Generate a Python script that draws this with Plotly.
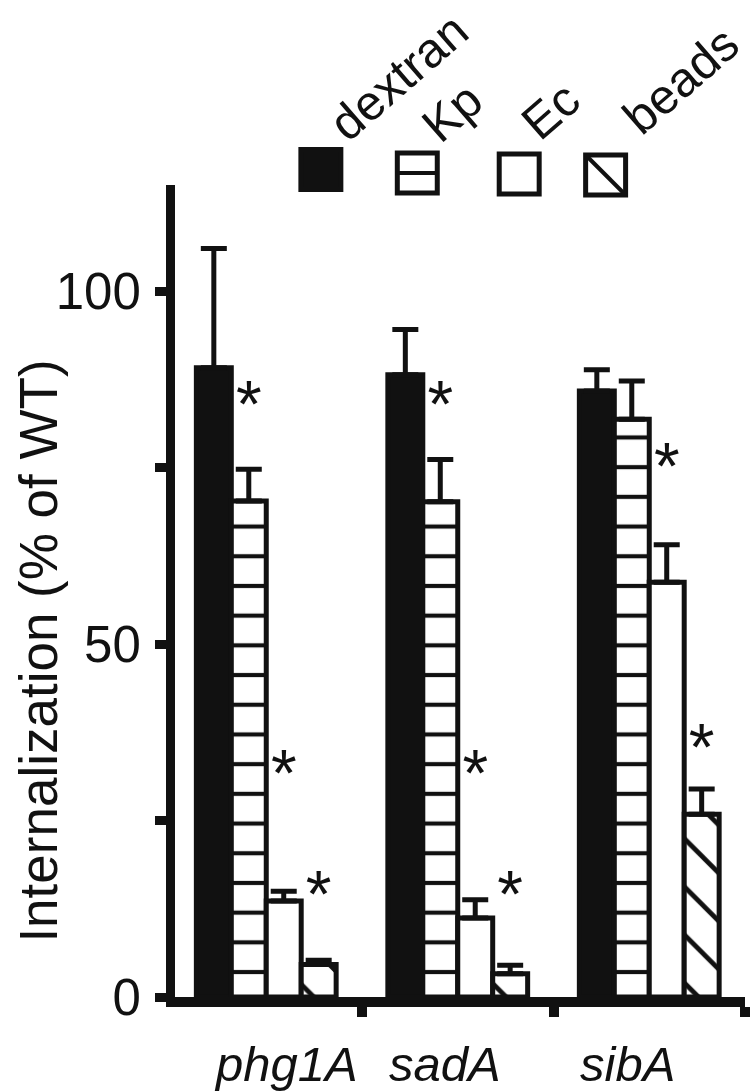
import plotly.graph_objects as go

# ---------------- data ----------------
strains = ["phg1A", "sadA", "sibA"]
series = ["dextran", "Kp", "Ec", "beads"]

dextran = [89.2, 88.2, 85.9]
kp = [70.3, 70.2, 81.9]
ec = [13.6, 11.2, 58.8]
beads = [4.6, 3.3, 25.9]

dextran_err = [16.9, 6.4, 3.0]
kp_err = [4.5, 6.0, 5.4]
ec_err = [1.4, 2.6, 5.3]
beads_err = [0.6, 1.2, 3.6]

# level of significance asterisks (None = not significant)
dextran_star = [None, None, None]
kp_star = [83.2, 83.2, None]
ec_star = [30.9, 30.8, 74.4]
beads_star = [13.7, 13.7, 34.5]

y_ticks = [0, 25, 50, 75, 100]
y_ticktext = ["0", "", "50", "", "100"]
y_title = "Internalization (% of WT)"

# ---------------- styling ----------------
INK = "#111111"
FONT = "Liberation Sans, Arial, Helvetica, sans-serif"
FS = 49
W, H = 750, 1092
AXL = 170          # pixel x of the y-axis line centre (= first category boundary)
YLW = 9            # y-axis line width
ML, MR, MT, MB = AXL + YLW / 2, 5, 185, 95
PW, PH = W - ML - MR, H - MT - MB
CAT_W = (W - MR - AXL) / len(strains)
X_START = -0.5 + (YLW / 2) / CAT_W


def px_x(x):
    return (x - ML) / PW


def px_y(y):
    return (H - MB - y) / PH


values = [dextran, kp, ec, beads]
errors = [dextran_err, kp_err, ec_err, beads_err]
stars = [dextran_star, kp_star, ec_star, beads_star]
patterns = [
    None,
    dict(shape="-", fgcolor=INK, fgopacity=1, bgcolor="white", size=29.7, solidity=0.14,
         fillmode="overlay"),
    None,
    dict(shape="\\", fgcolor=INK, fgopacity=1, bgcolor="white", size=34, solidity=0.14,
         fillmode="overlay"),
]
fills = [INK, "white", "white", "white"]

fig = go.Figure()
for i, name in enumerate(series):
    marker = dict(color=fills[i], line=dict(color=INK, width=5))
    if patterns[i] is not None:
        marker["pattern"] = patterns[i]
    fig.add_trace(go.Bar(
        name=name, x=strains, y=values[i], offsetgroup=name,
        marker=marker,
        error_y=dict(type="data", symmetric=False, array=errors[i],
                     arrayminus=[0] * len(strains), color=INK, thickness=5, width=13),
        showlegend=False,
    ))

for i, name in enumerate(series):
    fig.add_trace(go.Scatter(
        x=strains, y=stars[i], offsetgroup=name, mode="text",
        text=["*" if s is not None else "" for s in stars[i]],
        textposition="middle center",
        textfont=dict(size=66, color=INK, family=FONT),
        showlegend=False, cliponaxis=False, hoverinfo="skip",
    ))

# ---------------- legend (drawn manually) ----------------
legend_boxes = [(320.5, 169.5), (417, 173), (519, 174), (605.5, 175)]
legend_labels = [(398, 77), (452, 112), (550, 111), (681, 80)]
half = 20
shapes = []
for i, (cx, cy) in enumerate(legend_boxes):
    x0, x1 = px_x(cx - half), px_x(cx + half)
    y0, y1 = px_y(cy + half), px_y(cy - half)
    shapes.append(dict(type="rect", xref="paper", yref="paper", x0=x0, x1=x1, y0=y0, y1=y1,
                       line=dict(color=INK, width=5), fillcolor=INK if i == 0 else "white"))
    if i == 1:
        shapes.append(dict(type="line", xref="paper", yref="paper", x0=x0, x1=x1,
                           y0=px_y(cy), y1=px_y(cy), line=dict(color=INK, width=4)))
    if i == 3:
        shapes.append(dict(type="line", xref="paper", yref="paper", x0=x0, x1=x1,
                           y0=y1, y1=y0, line=dict(color=INK, width=4)))

annotations = []
for (lx, ly), name in zip(legend_labels, series):
    annotations.append(dict(text=name, xref="paper", yref="paper", x=px_x(lx), y=px_y(ly),
                            xanchor="center", yanchor="middle", textangle=-41, showarrow=False,
                            font=dict(size=FS, color=INK, family=FONT)))

# category labels
cat_shift = [20, -13, -22]
for s, sh in zip(strains, cat_shift):
    annotations.append(dict(text=f"<i>{s}</i>", x=s, xref="x", yref="paper", y=px_y(1064),
                            xshift=sh, xanchor="center", yanchor="middle", showarrow=False,
                            font=dict(size=FS, color=INK, family=FONT)))

# y-axis title
annotations.append(dict(text=y_title, xref="paper", yref="paper", x=px_x(37), y=px_y(651),
                        xanchor="center", yanchor="middle", textangle=-90, showarrow=False,
                        font=dict(size=53, color=INK, family=FONT)))

fig.update_layout(
    width=W, height=H,
    margin=dict(l=ML, r=MR, t=MT, b=MB, pad=0),
    paper_bgcolor="white", plot_bgcolor="white",
    barmode="group", bargap=0.27, bargroupgap=0,
    scattermode="group", scattergap=0.27,
    shapes=shapes, annotations=annotations,
    font=dict(family=FONT, size=FS, color=INK),
)
fig.update_xaxes(
    type="category", range=[X_START, 2.5], showline=True, linewidth=10, linecolor=INK,
    ticks="outside", tickson="boundaries", ticklen=10, tickwidth=10, tickcolor=INK,
    showticklabels=False, showgrid=False, zeroline=False, fixedrange=True,
)
fig.update_yaxes(
    range=[0, 115.1], showline=True, linewidth=YLW, linecolor=INK,
    tickvals=y_ticks, ticktext=y_ticktext, ticks="outside", ticklen=11, tickwidth=9,
    tickcolor=INK, ticklabelstandoff=4, tickfont=dict(size=51, color=INK, family=FONT),
    showgrid=False, zeroline=False, fixedrange=True,
)

fig.write_html(
    "out.html",
    config={"displayModeBar": False},
    post_script="document.body.style.margin='0';document.body.style.overflow='hidden';",
)
